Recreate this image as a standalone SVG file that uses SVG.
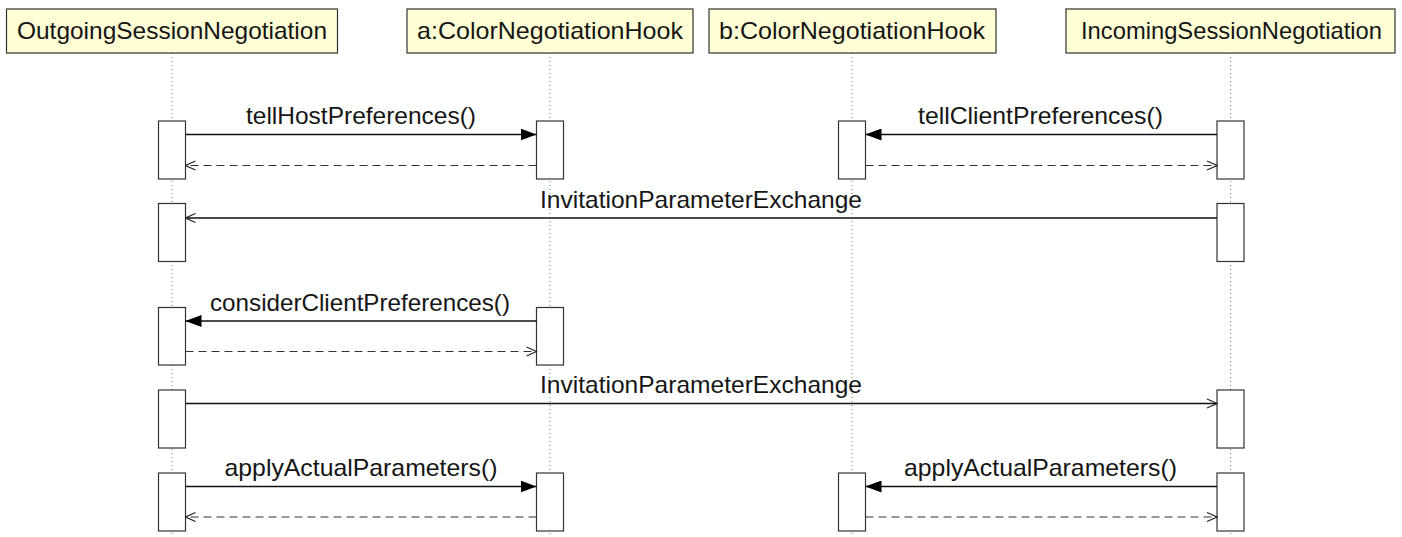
<svg xmlns="http://www.w3.org/2000/svg" width="1402" height="537" viewBox="0 0 1402 537">
  <style>
    .head { fill: #fffed5; stroke: #333; stroke-width: 1.2; }
    .lbl { font-family: "Liberation Sans", Arial, sans-serif; font-size: 24px; fill: #151515; text-anchor: middle; }
    .life { stroke: #777; stroke-width: 1; stroke-dasharray: 1 3; fill: none; }
    .act { fill: #fff; stroke: #333; stroke-width: 1.2; }
    .msg { stroke: #111; stroke-width: 1.3; fill: none; }
    .ret { stroke: #333; stroke-width: 1.1; stroke-dasharray: 8 5; fill: none; }
  </style>
  <defs>
    <marker id="filled" viewBox="0 0 16 12" refX="16" refY="6" markerWidth="16" markerHeight="12" markerUnits="userSpaceOnUse" orient="auto">
      <path d="M0,0 L16,6 L0,12 Z" fill="#000"/>
    </marker>
    <marker id="open" viewBox="0 0 12 12" refX="11" refY="6" markerWidth="12" markerHeight="12" markerUnits="userSpaceOnUse" orient="auto">
      <path d="M1,1.5 L11,6 L1,10.5" fill="none" stroke="#222" stroke-width="1.1"/>
    </marker>
  </defs>

  <rect width="1402" height="537" fill="#fff"/>

  <!-- lifelines -->
  <g id="lifelines">
    <line class="life" x1="172" y1="53" x2="172" y2="537"/>
    <line class="life" x1="550" y1="53" x2="550" y2="537"/>
    <line class="life" x1="852" y1="53" x2="852" y2="537"/>
    <line class="life" x1="1230.5" y1="53" x2="1230.5" y2="537"/>
  </g>

  <!-- participants -->
  <g id="outgoing">
    <rect class="head" x="6.5" y="9" width="331" height="44"/>
    <text class="lbl" x="172" y="39" textLength="310" lengthAdjust="spacingAndGlyphs">OutgoingSessionNegotiation</text>
    <rect class="act" x="158.5" y="121" width="27" height="58"/>
    <rect class="act" x="158.5" y="203.5" width="27" height="58"/>
    <rect class="act" x="158.5" y="307.5" width="27" height="57.5"/>
    <rect class="act" x="158.5" y="390" width="27" height="58"/>
    <rect class="act" x="158.5" y="473" width="27" height="58"/>
  </g>

  <g id="hookA">
    <rect class="head" x="407" y="9" width="286" height="44"/>
    <text class="lbl" x="550" y="39" textLength="266" lengthAdjust="spacingAndGlyphs">a:ColorNegotiationHook</text>
    <rect class="act" x="536.5" y="121" width="27" height="58"/>
    <rect class="act" x="536.5" y="307.5" width="27" height="57.5"/>
    <rect class="act" x="536.5" y="473" width="27" height="58"/>
  </g>

  <g id="hookB">
    <rect class="head" x="709" y="9" width="287" height="44"/>
    <text class="lbl" x="852" y="39" textLength="266" lengthAdjust="spacingAndGlyphs">b:ColorNegotiationHook</text>
    <rect class="act" x="838.5" y="121" width="27" height="58"/>
    <rect class="act" x="838.5" y="473" width="27" height="58"/>
  </g>

  <g id="incoming">
    <rect class="head" x="1066" y="9" width="329" height="44"/>
    <text class="lbl" x="1231.5" y="39" textLength="301" lengthAdjust="spacingAndGlyphs">IncomingSessionNegotiation</text>
    <rect class="act" x="1217" y="121" width="27" height="58"/>
    <rect class="act" x="1217" y="203.5" width="27" height="58"/>
    <rect class="act" x="1217" y="390" width="27" height="58"/>
    <rect class="act" x="1217" y="473" width="27" height="58"/>
  </g>

  <!-- messages -->
  <g id="connectors">
    <!-- host preferences -->
    <line class="msg" x1="185.5" y1="134.5" x2="536.5" y2="134.5" marker-end="url(#filled)"/>
    <text class="lbl" x="361" y="124" textLength="230" lengthAdjust="spacingAndGlyphs">tellHostPreferences()</text>
    <line class="ret" x1="536.5" y1="165.5" x2="185.5" y2="165.5" marker-end="url(#open)"/>

    <!-- client preferences -->
    <line class="msg" x1="1217" y1="134.5" x2="865.5" y2="134.5" marker-end="url(#filled)"/>
    <text class="lbl" x="1040.5" y="124" textLength="245" lengthAdjust="spacingAndGlyphs">tellClientPreferences()</text>
    <line class="ret" x1="865.5" y1="165.5" x2="1217" y2="165.5" marker-end="url(#open)"/>

    <!-- parameter exchange, incoming to outgoing -->
    <line class="msg" x1="1217" y1="218" x2="185.5" y2="218" marker-end="url(#open)"/>
    <text class="lbl" x="701" y="208" textLength="322" lengthAdjust="spacingAndGlyphs">InvitationParameterExchange</text>

    <!-- consider client preferences -->
    <line class="msg" x1="536.5" y1="321" x2="185.5" y2="321" marker-end="url(#filled)"/>
    <text class="lbl" x="360" y="311" textLength="300" lengthAdjust="spacingAndGlyphs">considerClientPreferences()</text>
    <line class="ret" x1="185.5" y1="351.5" x2="536.5" y2="351.5" marker-end="url(#open)"/>

    <!-- parameter exchange, outgoing to incoming -->
    <line class="msg" x1="185.5" y1="403.5" x2="1217" y2="403.5" marker-end="url(#open)"/>
    <text class="lbl" x="701" y="393" textLength="322" lengthAdjust="spacingAndGlyphs">InvitationParameterExchange</text>

    <!-- apply actual parameters -->
    <line class="msg" x1="185.5" y1="486.5" x2="536.5" y2="486.5" marker-end="url(#filled)"/>
    <text class="lbl" x="361" y="476" textLength="273" lengthAdjust="spacingAndGlyphs">applyActualParameters()</text>
    <line class="ret" x1="536.5" y1="517" x2="185.5" y2="517" marker-end="url(#open)"/>

    <line class="msg" x1="1217" y1="486.5" x2="865.5" y2="486.5" marker-end="url(#filled)"/>
    <text class="lbl" x="1040.5" y="476" textLength="273" lengthAdjust="spacingAndGlyphs">applyActualParameters()</text>
    <line class="ret" x1="865.5" y1="517" x2="1217" y2="517" marker-end="url(#open)"/>
  </g>
</svg>
